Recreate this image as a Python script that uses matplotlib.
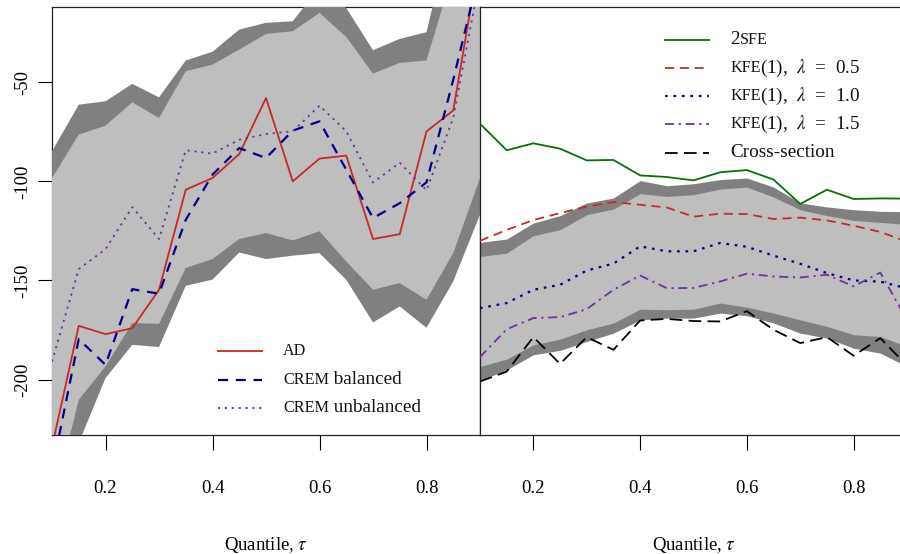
import matplotlib
matplotlib.use("Agg")
import matplotlib.pyplot as plt
from matplotlib.offsetbox import TextArea, HPacker, DrawingArea, AnchoredOffsetbox
from matplotlib.lines import Line2D

plt.rcParams['font.family'] = ['Liberation Serif', 'DejaVu Serif']
plt.rcParams['mathtext.fontset'] = 'stix'

# ---------------- data ----------------
quantiles = [0.10, 0.15, 0.20, 0.25, 0.30, 0.35, 0.40, 0.45, 0.50,
             0.55, 0.60, 0.65, 0.70, 0.75, 0.80, 0.85, 0.90]
xticks = [0.2, 0.4, 0.6, 0.8]
xtick_labels = ["0.2", "0.4", "0.6", "0.8"]
yticks = [-50, -100, -150, -200]
ytick_labels = ["-50", "-100", "-150", "-200"]

# left panel
ad = [-234, -172.9, -177.1, -174.1, -154.7, -104.2, -98.3, -86.2, -57.9,
      -100.0, -88.5, -87.0, -129.1, -126.6, -74.8, -64.2, 15]
crem_bal = [-246, -179.6, -192.6, -154.4, -156.7, -119.4, -96.6, -83.2, -88.2,
            -74.4, -69.7, -94.1, -118.5, -111.0, -100.5, -48.7, 7]
crem_unbal = [-190.9, -144.3, -134.2, -113.0, -129.1, -84.3, -86.0, -79.0, -76.1,
              -74.7, -61.8, -74.7, -100.6, -90.6, -104.5, -68.0, 3]
l_outer_up = [-84.8, -61.3, -59.6, -50.8, -57.6, -39.0, -34.6, -23.4, -20.0,
              -19.2, -2.0, -12.5, -33.8, -28.1, -24.7, 32, 45]
l_inner_up = [-98.3, -76.4, -71.9, -60.1, -68.0, -44.4, -41.1, -33.5, -25.6,
              -24.2, -15.0, -27.1, -45.6, -40.2, -39.0, 6, 20]
l_inner_lo = [-265, -210.3, -193.4, -171.5, -171.9, -143.7, -139.2, -129.1, -126.1,
              -129.8, -125.2, -140.4, -154.7, -151.3, -159.8, -136.2, -98.3]
l_outer_lo = [-290, -232, -199.3, -182.5, -183.6, -152.7, -149.6, -135.9, -139.2,
              -137.5, -136.2, -149.6, -171.2, -163.1, -173.9, -150.5, -116.8]

# right panel
sfe2 = [-70.9, -84.3, -80.8, -83.5, -89.4, -89.2, -97.0, -97.8, -99.5,
        -95.4, -94.3, -99.1, -111.4, -104.2, -108.9, -108.6, -108.7]
kfe05 = [-130.0, -124.5, -119.5, -116.0, -112.7, -110.4, -111.8, -113.2, -117.8,
         -116.3, -116.5, -119.0, -118.3, -119.7, -122.4, -125.5, -130.5]
kfe10 = [-164.0, -161.4, -154.7, -152.2, -145.0, -141.5, -132.8, -135.3, -135.3,
         -131.1, -133.0, -137.5, -141.6, -146.3, -150.0, -150.6, -154.0]
kfe15 = [-188.7, -174.6, -169.0, -168.5, -164.5, -154.7, -147.5, -153.9, -153.8,
         -150.5, -146.6, -148.0, -148.5, -147.1, -153.0, -146.0, -170.0]
cross = [-201.0, -196.0, -178.6, -192.1, -178.6, -185.0, -170.2, -169.4, -170.5,
         -170.7, -165.5, -174.9, -181.6, -178.6, -188.0, -179.1, -193.0]
r_outer_up = [-130.8, -129.1, -121.0, -117.3, -110.9, -108.4, -99.6, -102.2, -101.2,
              -99.1, -98.3, -102.9, -110.9, -112.9, -114.3, -115.1, -115.3]
r_inner_up = [-137.9, -136.2, -127.4, -124.4, -116.8, -114.0, -106.2, -107.6, -106.7,
              -103.9, -102.9, -107.9, -114.3, -117.3, -119.7, -120.7, -121.7]
r_inner_lo = [-193.4, -189.7, -182.5, -179.6, -174.9, -171.5, -164.5, -164.8, -164.5,
              -161.4, -163.5, -166.5, -169.9, -173.2, -177.4, -178.3, -183.3]
r_outer_lo = [-200.5, -195.1, -187.5, -185.3, -180.8, -176.6, -169.9, -169.0, -169.0,
              -166.5, -167.8, -171.5, -176.6, -179.1, -184.2, -186.7, -193.4]

# ---------------- styles ----------------
DARK = "#808080"
LIGHT = "#BEBEBE"
RED = "#C62828"
BLUE = "#00008B"
PURPLE = "#7030A0"
GREEN = "#0B6E0B"
LW = 1.3
styles = {
    "ad": dict(color=RED, ls="-"),
    "cb": dict(color=BLUE, ls=(0, (4.5, 3.5))),
    "cu": dict(color=PURPLE, ls=(0, (1.2, 2.6))),
    "sfe": dict(color=GREEN, ls="-"),
    "k05": dict(color=RED, ls=(0, (5, 3.2))),
    "k10": dict(color=BLUE, ls=(0, (1.2, 2.6))),
    "k15": dict(color=PURPLE, ls=(0, (5, 2.6, 1.2, 2.6))),
    "cs": dict(color="black", ls=(0, (7, 3.5))),
}

W, H = 900, 554
fig = plt.figure(figsize=(9, 5.54), dpi=100)
ax_bottom = (H - 435) / H
ax_height = (435 - 7) / H
axL = fig.add_axes([52 / W, ax_bottom, (480 - 52) / W, ax_height])
axR = fig.add_axes([480 / W, ax_bottom, (907 - 480) / W, ax_height])

ylim = (-228, -12)
xlim = (0.1, 0.9)
TICK_FS = 13.5

for ax in (axL, axR):
    ax.set_xlim(*xlim)
    ax.set_ylim(*ylim)
    ax.set_xticks(xticks)
    ax.set_xticklabels(xtick_labels, fontsize=TICK_FS)
    ax.tick_params(axis="x", direction="out", length=10.5, width=0.8, pad=22)
    for s in ax.spines.values():
        s.set_linewidth(0.9)
        s.set_color("#222222")

axL.set_yticks(yticks)
axL.set_yticklabels(ytick_labels, fontsize=TICK_FS, rotation=90, va="center")
axL.tick_params(axis="y", direction="out", length=10, width=0.8, pad=5)
axR.set_yticks([])

# left bands
axL.fill_between(quantiles, l_outer_lo, l_outer_up, color=DARK, lw=0, zorder=3)
axL.fill_between(quantiles, l_inner_lo, l_inner_up, color=LIGHT, lw=0, zorder=3.1)
axL.plot(quantiles, ad, lw=LW, zorder=4, **styles["ad"])
axL.plot(quantiles, crem_bal, lw=LW + 0.3, zorder=4, **styles["cb"])
axL.plot(quantiles, crem_unbal, lw=LW, zorder=4, **styles["cu"])

# right bands
axR.fill_between(quantiles, r_outer_lo, r_outer_up, color=DARK, lw=0, zorder=1)
axR.fill_between(quantiles, r_inner_lo, r_inner_up, color=LIGHT, lw=0, zorder=1.1)
axR.plot(quantiles, sfe2, lw=LW, zorder=4, **styles["sfe"])
axR.plot(quantiles, kfe05, lw=LW, zorder=4, **styles["k05"])
axR.plot(quantiles, kfe10, lw=LW + 0.3, zorder=4, **styles["k10"])
axR.plot(quantiles, kfe15, lw=LW, zorder=4, **styles["k15"])
axR.plot(quantiles, cross, lw=LW, zorder=4, **styles["cs"])

# x labels
fig.text(266 / W, 1 - 545 / H, r"Quantile, $\tau$", ha="center", va="center", fontsize=TICK_FS)
fig.text(693.5 / W, 1 - 545 / H, r"Quantile, $\tau$", ha="center", va="center", fontsize=TICK_FS)

# ---------------- custom legends with small caps ----------------
MAIN = 13.8
SMALL = 11.6
PX = 72 / 100.0  # points per pixel


def legend_row(x_px, y_px, style, parts, line_len_px=44, gap_px=21, lw=LW):
    da = DrawingArea(line_len_px * PX, 8, 0, 0)
    da.add_artist(Line2D([0, line_len_px * PX], [4, 4], lw=lw, **style))
    tas = [TextArea(t, textprops=dict(fontsize=s, color="#111111")) for t, s in parts]
    txt = HPacker(children=tas, align="baseline", pad=0, sep=0)
    row = HPacker(children=[da, txt], align="center", pad=0, sep=gap_px * PX)
    ab = AnchoredOffsetbox(loc="center left", child=row, pad=0, borderpad=0,
                           frameon=False,
                           bbox_to_anchor=(x_px / W, 1 - y_px / H),
                           bbox_transform=fig.transFigure)
    fig.add_artist(ab)


legend_row(218, 351, styles["ad"], [("AD", SMALL)])
legend_row(218, 380, styles["cb"], [("CREM", SMALL), (" balanced", MAIN)], lw=LW + 0.3)
legend_row(218, 408, styles["cu"], [("CREM", SMALL), (" unbalanced", MAIN)])

legend_row(665, 40, styles["sfe"], [("2", MAIN), ("SFE", SMALL)])
legend_row(665, 68, styles["k05"], [("KFE", SMALL), (r"(1),  $\lambda$  =  0.5", MAIN)])
legend_row(665, 96, styles["k10"], [("KFE", SMALL), (r"(1),  $\lambda$  =  1.0", MAIN)], lw=LW + 0.3)
legend_row(665, 124, styles["k15"], [("KFE", SMALL), (r"(1),  $\lambda$  =  1.5", MAIN)])
legend_row(665, 153, styles["cs"], [("Cross-section", MAIN)])

fig.savefig("out.png", dpi=100)
